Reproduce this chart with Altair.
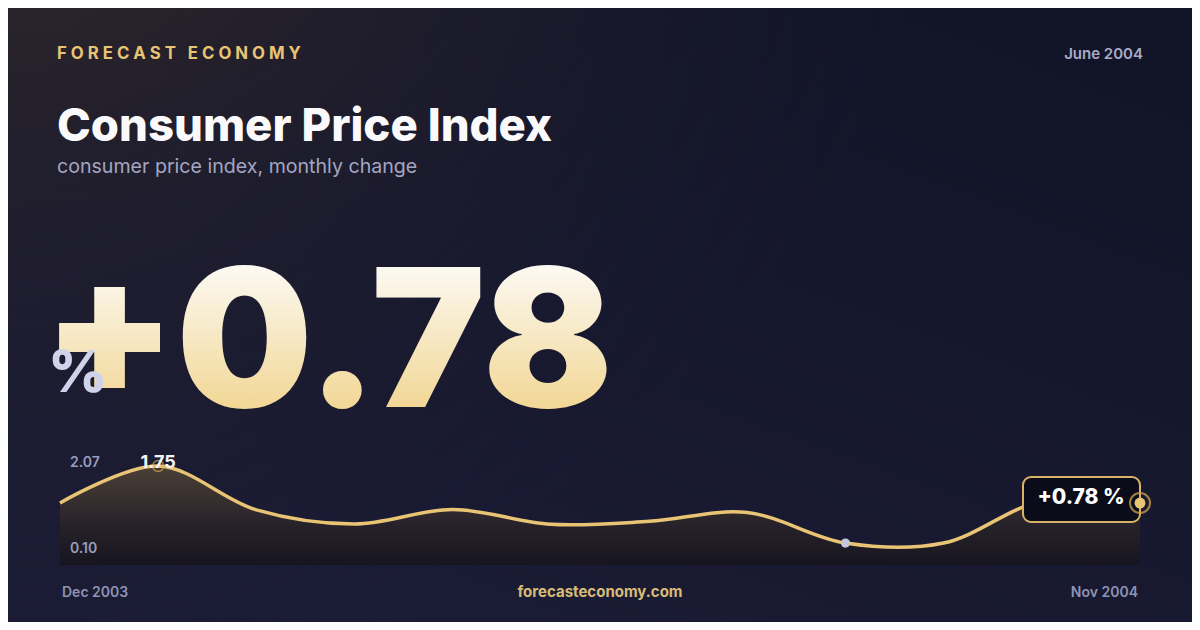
import altair as alt
import pandas as pd

# ---- data ----
months = ["Dec 2003", "Jan 2004", "Feb 2004", "Mar 2004", "Apr 2004", "May 2004",
          "Jun 2004", "Jul 2004", "Aug 2004", "Sep 2004", "Oct 2004", "Nov 2004"]
values = [0.78, 1.75, 0.60, 0.23, 0.61, 0.22, 0.30, 0.53, -0.27, -0.27, 0.83, 0.78]
peak_index = 1
marked_index = 8
last_index = len(values) - 1

brand = "FORECAST ECONOMY"
date_label = "June 2004"
title = "Consumer Price Index"
subtitle = "consumer price index, monthly change"
headline = "+0.78"
unit = "%"
range_labels = ["2.07", "0.10"]
peak_label = "1.75"
last_label = "+0.78 %"
footer = "forecasteconomy.com"

W, H = 1184, 614
GOLD = "#e8c474"
Y_MIN, Y_MAX = -0.846, 2.04

df = pd.DataFrame({"i": list(range(len(values))), "month": months, "v": values})
peak_df = df.iloc[[peak_index]]
mark_df = df.iloc[[marked_index]]
last_df = df.iloc[[last_index]]
one = pd.DataFrame({"a": [0]})

xs = alt.Scale(domain=[0, 11], range=[52, 1132])
ys = alt.Scale(domain=[Y_MIN, Y_MAX], range=[557, 447], zero=False)
X = alt.X("i:Q", scale=xs, axis=None)
Y = alt.Y("v:Q", scale=ys, axis=None)


def txt(s, x, y, size, color, weight=400, align="left", font="Inter", fill=None):
    kw = dict(text=s, align=align, baseline="alphabetic", fontSize=size,
              fontWeight=weight, font=font)
    if fill is not None:
        kw["fill"] = fill
    else:
        kw["color"] = color
    return alt.Chart(one).mark_text(**kw).encode(x=alt.value(x), y=alt.value(y))


bg_base = alt.Chart(one).mark_rect(
    fill=alt.LinearGradient(
        gradient="linear", x1=1, y1=0, x2=0.3, y2=1,
        stops=[alt.GradientStop(offset=0, color="#111326"),
               alt.GradientStop(offset=1, color="#1b1c35")],
    )
).encode(x=alt.value(0), x2=alt.value(W), y=alt.value(0), y2=alt.value(H))

bg_warm = alt.Chart(one).mark_rect(
    fill=alt.RadialGradient(
        gradient="radial",
        x1=0.0, y1=0.0, r1=0.0, x2=0.0, y2=0.0, r2=0.8,
        stops=[alt.GradientStop(offset=0, color="rgba(62,52,46,1)"),
               alt.GradientStop(offset=0.4, color="rgba(45,38,42,0.6)"),
               alt.GradientStop(offset=1, color="rgba(24,26,48,0)")],
    )
).encode(x=alt.value(0), x2=alt.value(W), y=alt.value(0), y2=alt.value(H))

area = alt.Chart(df).mark_area(
    interpolate="catmull-rom",
    fill=alt.LinearGradient(
        gradient="linear", x1=0, y1=0, x2=0, y2=1,
        stops=[alt.GradientStop(offset=0, color="#4b4036"),
               alt.GradientStop(offset=0.6, color="#27222a"),
               alt.GradientStop(offset=1, color="#16151f")],
    ),
).encode(x=X, y=Y, y2=alt.datum(Y_MIN))

line = alt.Chart(df).mark_line(
    interpolate="catmull-rom", color=GOLD, strokeWidth=3.5
).encode(x=X, y=Y)

peak_ring = alt.Chart(peak_df).mark_point(
    shape="circle", size=120, filled=False, stroke="#d9a94f", strokeWidth=1.5
).encode(x=X, y=Y)
peak_text = alt.Chart(peak_df).mark_text(
    text=peak_label, fontSize=18, fontWeight=700, font="Inter", color="#f4f4f8",
    baseline="alphabetic", align="center", dy=2
).encode(x=X, y=Y)

mark_dot = alt.Chart(mark_df).mark_point(
    shape="circle", size=85, filled=True, color="#c3c6dc", opacity=1
).encode(x=X, y=Y)

box = alt.Chart(one).mark_rect(
    fill="#0b0c19", stroke="#d9b466", strokeWidth=2, cornerRadius=8
).encode(x=alt.value(1015), x2=alt.value(1132), y=alt.value(469), y2=alt.value(514))
box_text = txt(last_label, 1073, 496, 21, "#ffffff", 800, "center")

end_ring = alt.Chart(last_df).mark_point(
    shape="circle", size=400, filled=False, stroke="#d9a94f", strokeWidth=2.2
).encode(x=X, y=Y)
end_dot = alt.Chart(last_df).mark_point(
    shape="circle", size=120, filled=True, color=GOLD, opacity=1
).encode(x=X, y=Y)

spaced_brand = "\u00a0".join(list(brand.replace(" ", "\u00a0")))

texts = [
    txt(spaced_brand, 49, 51, 16.8, GOLD, 700),
    txt(date_label, 1135, 51, 15, "#a8abc8", 600, "right"),
    txt(title, 49, 133, 45.5, "#fafafc", 800),
    txt(subtitle, 49, 165, 19.6, "#a3a6c2", 400),
    txt(headline, 35, 399, 192, None, 900,
        fill=alt.LinearGradient(
            gradient="linear", x1=0, y1=0, x2=0, y2=1,
            stops=[alt.GradientStop(offset=0.15, color="#fdfcf9"),
                   alt.GradientStop(offset=0.8, color="#f2d796")],
        )),
    txt(unit, 40, 384, 58, "#cfd2ea", 800),
    txt(range_labels[0], 62, 459, 14, "#9a9dbb", 600),
    txt(range_labels[1], 62, 545, 14, "#9a9dbb", 600),
    txt(months[0], 54, 589, 14, "#8f93b3", 600),
    txt(months[-1], 1130, 589, 14, "#8f93b3", 600, "right"),
    txt(footer, 592, 589, 15, "#d9bb78", 700, "center"),
]

chart = alt.layer(
    bg_base, bg_warm, area, line, peak_ring, peak_text, mark_dot, box, box_text,
    end_ring, end_dot, *texts
).properties(
    width=W, height=H, autosize="none", padding=0, background="#181a30"
).configure_view(stroke=None)

chart.save("out.html", embed_options={"renderer": "svg", "actions": False})
